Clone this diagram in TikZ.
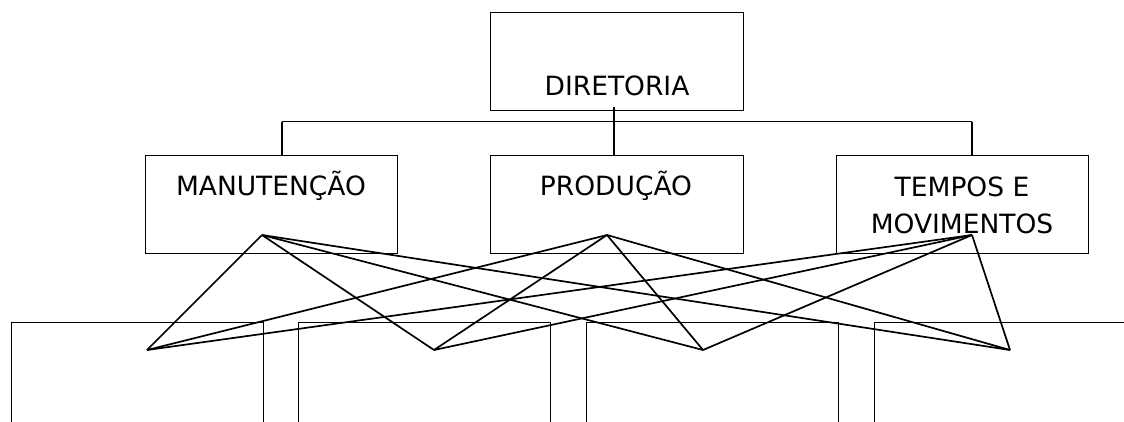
\documentclass[tikz,border=0pt]{standalone}
\usepackage{fontspec}
\setmainfont{DejaVu Sans}
\begin{document}
\begin{tikzpicture}[x=1pt,y=-1pt,
  box/.style={draw,line width=1.2pt,rectangle,inner sep=0pt,anchor=north west},
  lbl/.style={anchor=base,inner sep=0pt,font=\fontsize{26.5}{37}\selectfont},
  tree/.style={line width=1.3pt},
  fan/.style={line width=1.7pt,line join=miter}]
\useasboundingbox (0,0) rectangle (1124,421);
\clip (0,0) rectangle (1124,421);
% top level
\node[box,minimum width=253pt,minimum height=98pt] (dir) at (490,12) {};
\node[lbl] (tdir) at (617,95) {DIRETORIA};
% second level
\node[box,minimum width=252pt,minimum height=98pt] (man) at (145,155) {};
\node[box,minimum width=253pt,minimum height=98pt] (pro) at (490,155) {};
\node[box,minimum width=252pt,minimum height=98pt] (tem) at (836,155) {};
\node[lbl] (tman) at (271,195) {MANUTENÇÃO};
\node[lbl] (tpro) at (616,195) {PRODUÇÃO};
\node[lbl] (ttem1) at (962,196) {TEMPOS E};
\node[lbl] (ttem2) at (962,233) {MOVIMENTOS};
% tree connectors
\coordinate (j) at (614,121.5);
\coordinate (jl) at (282,121.5);
\coordinate (jr) at (972,121.5);
\draw[tree] (614,107) -- (pro.north -| j);
\draw[tree] (jl) -- (jr);
\draw[tree] (jl) -- (man.north -| jl);
\draw[tree] (jr) -- (tem.north -| jr);
% bottom level boxes (cut by the picture edge)
\node[box,minimum width=252pt,minimum height=140pt] (b1) at (11,322) {};
\node[box,minimum width=252pt,minimum height=140pt] (b2) at (298,322) {};
\node[box,minimum width=252pt,minimum height=140pt] (b3) at (586,322) {};
\node[box,minimum width=300pt,minimum height=140pt] (b4) at (874,322) {};
% fan points
\coordinate (m) at (262,235);
\coordinate (p) at (607,235);
\coordinate (t) at (972,235);
\coordinate (q1) at (147,350);
\coordinate (q2) at (434,350);
\coordinate (q3) at (703,350);
\coordinate (q4) at (1010,350);
\foreach \s in {m,p,t}{
  \foreach \d in {q1,q2,q3,q4}{
    \draw[fan] (\s) -- (\d);
  }
}
\end{tikzpicture}
\end{document}
